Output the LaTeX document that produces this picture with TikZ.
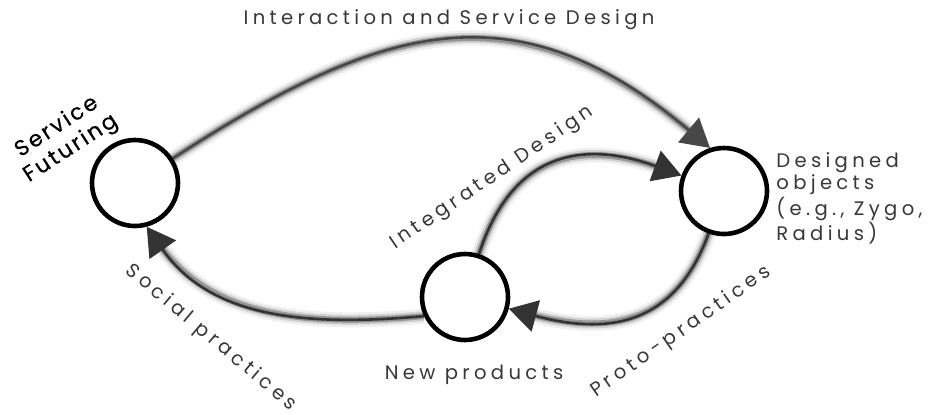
\documentclass[tikz,border=0pt]{standalone}
\usepackage{fontspec}
\setmainfont{Poppins}[LetterSpace=22]
\usetikzlibrary{arrows.meta}
\pgfdeclarelayer{edgelayer}
\pgfdeclarelayer{nodelayer}
\pgfsetlayers{edgelayer,nodelayer,main}
\tikzstyle{none}=[inner sep=0pt]
\tikzstyle{hub}=[circle, draw=black, fill=white, line width=2.3pt, minimum size=43pt, inner sep=0pt]
\tikzstyle{caption}=[inner sep=0pt, text=black!78, font=\fontsize{9.8}{11.3}\selectfont]
\tikzstyle{flow}=[draw=black!80, line width=1.3pt, -{Triangle[length=14pt,width=16pt]},
	preaction={draw=black!6, line width=7.5pt, -, shorten >=10pt},
	preaction={draw=black!18, line width=5pt, -, shorten >=10pt},
	preaction={draw=black!42, line width=3pt, -, shorten >=10pt}]

\begin{document}
\begin{tikzpicture}[x=0.5pt, y=0.5pt]
	\useasboundingbox (0, 0) rectangle (935, -414);
	\begin{pgfonlayer}{nodelayer}
		\node [style=hub] (0) at (135, -183) {};
		\node [style=hub] (1) at (465, -297) {};
		\node [style=hub] (2) at (724, -191) {};
		\node [style=caption] (3) at (449, -20) {Interaction and Service Design};
		\node [style=caption, text=black, font=\fontsize{11}{12.8}\selectfont\addfontfeature{LetterSpace=11,FakeBold=0.4}, align=center, rotate=33] (4) at (64, -138) {Service\\Futuring};
		\node [style=caption, rotate=34] (5) at (492, -178) {Integrated Design};
		\node [style=caption, rotate=-40] (6) at (211, -338) {Social practices};
		\node [style=caption] (7) at (474, -375) {New products};
		\node [style=caption, rotate=35] (8) at (681, -332) {Proto-practices};
		\node [style=caption, anchor=north west, align=left] (9) at (776, -152) {Designed\\objects\\(e.g., Zygo,\\Radius)};
	\end{pgfonlayer}
	\begin{pgfonlayer}{edgelayer}
		\draw [style=flow, draw=black!72] (0) to [out=33, in=140, looseness=1.2] (2.108);
		\draw [style=flow] (1) to [out=72, in=160, looseness=1.25] (2);
		\draw [style=flow] (2) to [out=-110, in=-15, looseness=1.2] (1);
		\draw [style=flow] (1.205) to [out=185, in=-55] (0.-75);
	\end{pgfonlayer}
\end{tikzpicture}
\end{document}
